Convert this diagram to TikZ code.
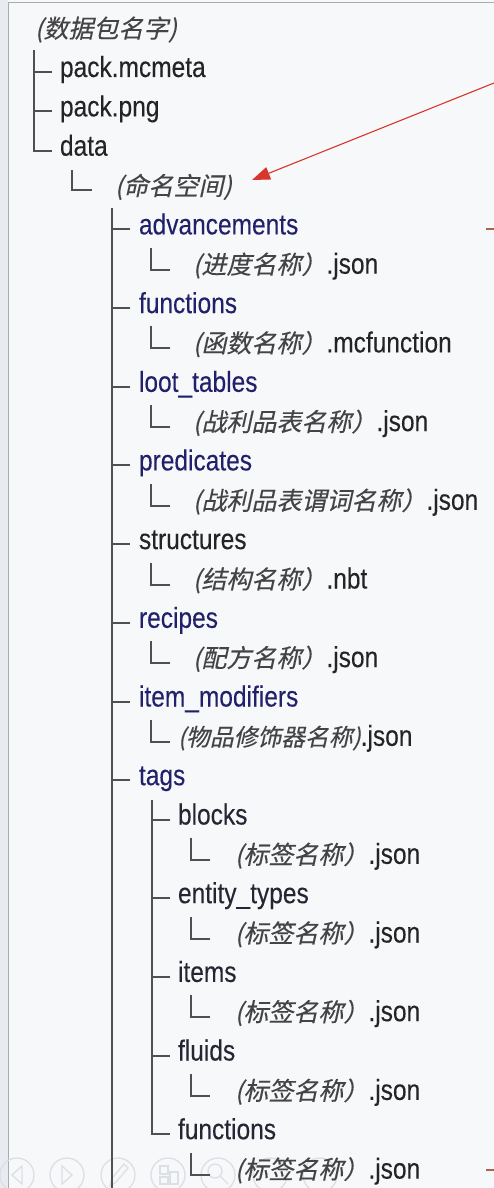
\documentclass[tikz,border=0pt]{standalone}
\usepackage{fontspec}
\setmainfont{Liberation Sans}[FakeStretch=0.845,FakeBold=0.15]
\newfontfamily\cjk{Noto Sans CJK SC}[FakeSlant=0.22,FakeBold=0.3]
\usetikzlibrary{arrows.meta,calc}
\definecolor{bg}{HTML}{F7F8FA}
\definecolor{strip}{HTML}{E8ECF1}
\definecolor{edgegray}{HTML}{A8ABB0}
\definecolor{navy}{HTML}{22206B}
\definecolor{ink}{HTML}{242424}
\definecolor{subink}{HTML}{272533}
\definecolor{cngray}{HTML}{444444}
\definecolor{treegray}{HTML}{505050}
\definecolor{arrowred}{HTML}{D8352B}
\definecolor{dashred}{HTML}{B0604F}
\definecolor{iconc}{HTML}{DCDFE4}
\newcommand\zh[1]{{\color{cngray}\cjk\fontsize{25}{30}\selectfont #1}}
\newcommand\zhs[1]{{\color{cngray}\cjk\fontsize{23.8}{30}\selectfont #1}}
\begin{document}
\begin{tikzpicture}[x=1pt,y=-1pt,
  every node/.style={inner sep=0pt,outer sep=0pt,anchor=base west,font=\fontsize{29}{34}\selectfont},
  file/.style={text=ink},
  dir/.style={text=navy},
  sub/.style={text=subink},
  leaf/.style={text=ink},
  tree/.style={draw=treegray,line width=2pt},
  icon/.style={draw=iconc,line width=1.3pt},
  redline/.style={draw=arrowred,line width=1.1pt},
  reddash/.style={draw=dashred,line width=2pt}]
\useasboundingbox (0,0) rectangle (494,1188);
% panel background
\fill[bg] (0,0) rectangle (494,1188);
\fill[strip] (0,0) rectangle (8,1188);
\draw[edgegray,line width=1.2pt] (8.6,1188) -- (8.6,2.6) -- (494,2.6);
% faint toolbar icons
\foreach \cx in {17,67,118,168,218,270,320}{
  \draw[icon] (\cx,1175) circle (17);
}
\draw[icon] (22,1166) -- (12,1175) -- (22,1184) -- cycle;
\draw[icon] (62,1166) -- (72,1175) -- (62,1184) -- cycle;
\draw[icon] (110,1186) -- (112,1178) -- (124,1164) -- (128,1168) -- (116,1182) -- cycle;
\draw[icon] (160,1166) rectangle (168,1174) (170,1172) rectangle (178,1184) (160,1177) rectangle (168,1184);
\draw[icon] (215,1171) circle (7) (220,1176) -- (228,1184);
% nodes
\node (root) at (35,37.7) {\zh{(数据包名字)}};
\node[file] (pmc) at (60,77.0) {pack.mcmeta};
\node[file] (png) at (60,116.4) {pack.png};
\node[file] (data) at (60,155.7) {data};
\node (ns) at (115,195.1) {\zh{(命名空间)}};
\node[dir] (adv) at (139,234.4) {advancements};
\node[leaf] (advj) at (193,273.7) {\zh{(进度名称）}.json};
\node[dir] (fun) at (139,313.1) {functions};
\node[leaf] (funj) at (193,352.4) {\zh{(函数名称）}.mcfunction};
\node[dir] (loot) at (139,391.8) {loot\_tables};
\node[leaf] (lootj) at (193,431.1) {\zh{(战利品表名称）}.json};
\node[dir] (pred) at (139,470.4) {predicates};
\node[leaf] (predj) at (193,509.8) {\zh{(战利品表谓词名称）}.json};
\node[file] (str) at (139,549.1) {structures};
\node[leaf] (strj) at (193,588.5) {\zh{(结构名称）}.nbt};
\node[dir] (rec) at (139,627.8) {recipes};
\node[leaf] (recj) at (193,667.1) {\zh{(配方名称）}.json};
\node[dir] (imod) at (139,706.5) {item\_modifiers};
\node[leaf] (imodj) at (178,745.8) {\zhs{(物品修饰器名称)}.json};
\node[dir] (tags) at (139,785.2) {tags};
\node[sub] (blk) at (178,824.5) {blocks};
\node[leaf] (blkj) at (235,863.8) {\zh{(标签名称）}.json};
\node[sub] (ent) at (178,903.2) {entity\_types};
\node[leaf] (entj) at (235,942.5) {\zh{(标签名称）}.json};
\node[sub] (itm) at (178,981.9) {items};
\node[leaf] (itmj) at (235,1021.2) {\zh{(标签名称）}.json};
\node[sub] (fld) at (178,1060.5) {fluids};
\node[leaf] (fldj) at (235,1099.9) {\zh{(标签名称）}.json};
\node[sub] (tfun) at (178,1139.2) {functions};
\node[leaf] (tfunj) at (235,1178.6) {\zh{(标签名称）}.json};
% trunks
\coordinate (l1top) at (33.5,50);
\coordinate (l3top) at (112,208);
\coordinate (l3bot) at (112,1188);
\coordinate (l4top) at (152,800);
\draw[tree] (l1top) |- ($(data.base west)+(-8,-5)$);
\foreach \n in {pmc,png}{\draw[tree] ($(\n.base west)+(-8,-5)$) -- ++(-18.5,0);}
\draw[tree] (l3top) -- (l3bot);
\foreach \n in {adv,fun,loot,pred,str,rec,imod,tags}{\draw[tree] ($(\n.base west)+(-9,-5)$) -- ++(-18,0);}
\draw[tree] (l4top) |- ($(tfun.base west)+(-8,-5)$);
\foreach \n in {blk,ent,itm,fld}{\draw[tree] ($(\n.base west)+(-8,-5)$) -- ++(-18,0);}
% elbows
\draw[tree] ($(ns.base west)+(-23,-5)$) -- ++(-20,0) -- ++(0,-20);
\foreach \n in {advj,funj,lootj,predj,strj,recj}{\draw[tree] ($(\n.base west)+(-23,-4)$) -- ++(-19,0) -- ++(0,-22);}
\draw[tree] ($(imodj.base west)+(-8,-4)$) -- ++(-19,0) -- ++(0,-22);
\foreach \n in {blkj,entj,itmj,fldj,tfunj}{\draw[tree] ($(\n.base west)+(-25,-4)$) -- ++(-19,0) -- ++(0,-22);}
% red annotations
\coordinate (astart) at (494,83);
\coordinate (atip) at (252,180);
\draw[redline,-{Triangle[length=18pt,width=13pt,fill=arrowred]}] (astart) -- (atip);
\coordinate (d1a) at (486,229);
\coordinate (d1b) at (494,229);
\coordinate (d2a) at (486,1170);
\coordinate (d2b) at (494,1170);
\draw[reddash] (d1a) -- (d1b);
\draw[reddash] (d2a) -- (d2b);
\end{tikzpicture}
\end{document}
